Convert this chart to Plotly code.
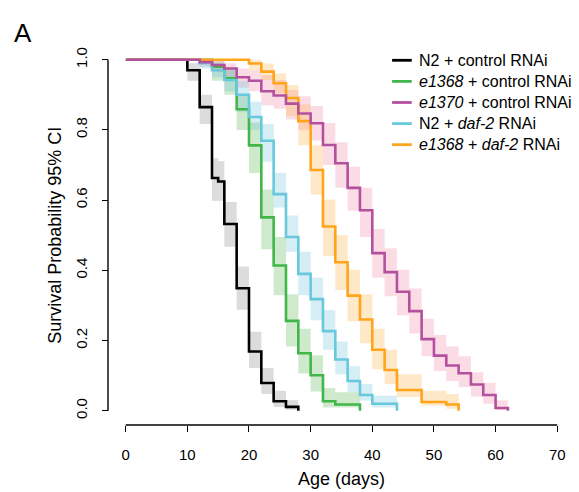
import plotly.graph_objects as go

# ---------------- data ----------------
# N2 + control RNAi
n2c_t = [0, 10, 12, 14, 15, 16, 18, 20, 22, 24, 26, 28]
n2c_s = [1.0, 0.970, 0.865, 0.663, 0.653, 0.532, 0.349, 0.169, 0.079, 0.027, 0.011, 0.0]
n2c_lo = [0.940, 0.817, 0.598, 0.598, 0.467, 0.288, 0.122, 0.048, 0.011, 0.003]
n2c_hi = [0.990, 0.900, 0.719, 0.711, 0.595, 0.411, 0.225, 0.122, 0.057, 0.030]

# e1368 + control RNAi
e68c_t = [0, 14, 16, 18, 20, 22, 24, 26, 28, 30, 32, 34, 38]
e68c_s = [1.0, 0.980, 0.947, 0.859, 0.756, 0.551, 0.414, 0.256, 0.164, 0.101, 0.027, 0.018, 0.0]
e68c_lo = [0.940, 0.900, 0.800, 0.677, 0.460, 0.329, 0.183, 0.106, 0.055, 0.009, 0.009]
e68c_hi = [0.995, 0.975, 0.900, 0.821, 0.630, 0.495, 0.332, 0.234, 0.158, 0.065, 0.053]

# e1370 + control RNAi
e70c_t = [0, 12, 14, 16, 18, 20, 22, 24, 26, 28, 30, 32, 34, 36, 38, 40, 42, 44, 46, 48,
          50, 52, 54, 56, 58, 60, 62]
e70c_s = [1.0, 0.993, 0.985, 0.975, 0.950, 0.940, 0.910, 0.898, 0.875, 0.847, 0.819, 0.757,
          0.705, 0.635, 0.571, 0.449, 0.395, 0.339, 0.284, 0.204, 0.157, 0.129, 0.107, 0.075,
          0.045, 0.008, 0.0]
e70c_lo = [0.980, 0.965, 0.950, 0.920, 0.910, 0.870, 0.860, 0.830, 0.800, 0.770, 0.700,
           0.635, 0.570, 0.495, 0.379, 0.326, 0.272, 0.220, 0.155, 0.113, 0.085, 0.067,
           0.040, 0.020, 0.002]
e70c_hi = [1.0, 0.998, 0.990, 0.975, 0.970, 0.956, 0.942, 0.914, 0.896, 0.868, 0.820,
           0.765, 0.695, 0.635, 0.518, 0.463, 0.402, 0.348, 0.262, 0.216, 0.183, 0.155,
           0.110, 0.080, 0.030]

# N2 + daf-2 RNAi
n2d_t = [0, 12, 14, 16, 18, 20, 22, 24, 26, 28, 30, 32, 34, 36, 38, 40, 44]
n2d_s = [1.0, 0.990, 0.970, 0.942, 0.900, 0.837, 0.769, 0.617, 0.495, 0.390, 0.318, 0.227,
         0.146, 0.085, 0.045, 0.020, 0.0]
n2d_lo = [0.975, 0.950, 0.910, 0.850, 0.800, 0.709, 0.579, 0.453, 0.329, 0.258, 0.174,
          0.104, 0.053, 0.029, 0.009]
n2d_hi = [1.0, 0.990, 0.970, 0.940, 0.880, 0.817, 0.677, 0.556, 0.453, 0.379, 0.286,
          0.197, 0.127, 0.076, 0.043]

# e1368 + daf-2 RNAi
e68d_t = [0, 20, 22, 24, 26, 28, 30, 32, 34, 36, 38, 40, 42, 44, 48, 52, 54]
e68d_s = [1.0, 0.989, 0.966, 0.933, 0.891, 0.825, 0.686, 0.525, 0.423, 0.328, 0.260, 0.174,
          0.116, 0.059, 0.025, 0.018, 0.0]
e68d_lo = [0.970, 0.942, 0.905, 0.840, 0.756, 0.616, 0.441, 0.344, 0.255, 0.192, 0.118,
           0.076, 0.039, 0.015, 0.006]
e68d_hi = [1.0, 0.989, 0.961, 0.928, 0.873, 0.756, 0.602, 0.500, 0.402, 0.332, 0.234,
           0.174, 0.104, 0.057, 0.048]

names = ["N2 + control RNAi", "<i>e1368</i> + control RNAi", "<i>e1370</i> + control RNAi",
         "N2 + <i>daf-2</i> RNAi", "<i>e1368</i> + <i>daf-2</i> RNAi"]

x_ticks = [0, 10, 20, 30, 40, 50, 60, 70]
y_ticks = [0.0, 0.2, 0.4, 0.6, 0.8, 1.0]
y_ticktext = ["0.0", "0.2", "0.4", "0.6", "0.8", "1.0"]

# ---------------- styling ----------------
line_colors = ["#000000", "#41B649", "#B4519F", "#68C9DC", "#FFA41B"]
fill_colors = ["rgba(140,140,140,0.30)", "rgba(70,170,60,0.26)", "rgba(240,120,155,0.26)",
               "rgba(100,190,215,0.27)", "rgba(255,165,40,0.26)"]

groups = [
    (n2c_t, n2c_s, n2c_lo, n2c_hi),
    (e68c_t, e68c_s, e68c_lo, e68c_hi),
    (e70c_t, e70c_s, e70c_lo, e70c_hi),
    (n2d_t, n2d_s, n2d_lo, n2d_hi),
    (e68d_t, e68d_s, e68d_lo, e68d_hi),
]


def boxes(t, lo, hi):
    xs, ys = [], []
    for i in range(len(lo)):
        x0, x1 = t[i + 1], t[i + 2]
        xs += [x0, x1, x1, x0, x0, None]
        ys += [lo[i], lo[i], hi[i], hi[i], lo[i], None]
    return xs, ys


fig = go.Figure()
for k, (t, s, lo, hi) in enumerate(groups):
    bx, by = boxes(t, lo, hi)
    fig.add_trace(go.Scatter(x=bx, y=by, mode="lines", fill="toself",
                             fillcolor=fill_colors[k], line=dict(width=0),
                             showlegend=False, hoverinfo="skip"))

draw_order = [0, 1, 3, 4, 2]
for k in draw_order:
    t, s, lo, hi = groups[k]
    fig.add_trace(go.Scatter(x=t, y=s, mode="lines", line_shape="hv",
                             line=dict(color=line_colors[k], width=2.6),
                             name=names[k], showlegend=False))

# ---------------- layout geometry (pixels) ----------------
W, H = 579, 492
ML, MR, MT, MB = 108, 0, 0, 67
pw, ph = W - ML - MR, H - MT - MB
x0_px, x70_px = 126, 565          # pixels of day 0 and day 70
y0_px, y1_px = 410.5, 52.7        # pixels of survival 0 and 1
ypad = 0.012
ppu = y0_px - y1_px
ybot_px = y0_px + ypad * ppu
ytop_px = y1_px - ypad * ppu


def px_x(p):
    return (p - ML) / pw


def px_y(p):
    return (H - MB - p) / ph


x_dom = [px_x(x0_px), px_x(x70_px)]
y_dom = [px_y(ybot_px), px_y(ytop_px)]

font = "Liberation Sans, Arial, Helvetica, sans-serif"

fig.update_layout(
    width=W, height=H,
    margin=dict(l=ML, r=MR, t=MT, b=MB),
    paper_bgcolor="white", plot_bgcolor="white",
    font=dict(family=font, color="black", size=15),
    xaxis=dict(domain=x_dom, range=[0, 70], anchor="free", position=0,
               tickvals=x_ticks, ticks="outside", ticklen=6, tickwidth=1.4,
               tickcolor="black", showline=False, showgrid=False, zeroline=False,
               ticklabelstandoff=10, tickfont=dict(size=15),
               title=dict(text="Age (days)", font=dict(size=18), standoff=10)),
    yaxis=dict(domain=y_dom, range=[-ypad, 1 + ypad], anchor="free", position=0,
               tickvals=y_ticks, ticktext=y_ticktext,
               ticks="outside", ticklen=6, tickwidth=1.4, tickcolor="black",
               tickangle=-90, showline=False, showgrid=False, zeroline=False,
               ticklabelstandoff=9, tickfont=dict(size=15),
               title=dict(text="Survival Probability 95% CI", font=dict(size=18), standoff=5)),
    showlegend=False,
)

# axis lines in R style (span only the tick range)
fig.add_shape(type="line", xref="paper", yref="paper", x0=0, x1=0,
              y0=px_y(y0_px), y1=px_y(y1_px), line=dict(color="black", width=1.4))
fig.add_shape(type="line", xref="paper", yref="paper", x0=x_dom[0], x1=x_dom[1], y0=0, y1=0,
              line=dict(color="black", width=1.4))

# legend drawn as key lines + text
leg_y = [53.3, 74.8, 96.3, 117.8, 139.3]
for k in range(5):
    fig.add_shape(type="line", xref="paper", yref="paper", x0=px_x(397), x1=px_x(417),
                  y0=px_y(leg_y[k]), y1=px_y(leg_y[k]),
                  line=dict(color=line_colors[k], width=2.8))
    fig.add_annotation(text=names[k], xref="paper", yref="paper", x=px_x(422),
                       y=px_y(leg_y[k]), showarrow=False, font=dict(size=16),
                       xanchor="left", yanchor="middle")

fig.add_annotation(text="A", xref="paper", yref="paper", x=px_x(22),
                   y=px_y(25), showarrow=False, font=dict(size=26),
                   xanchor="center", yanchor="middle")

fig.write_html("out.html", config={"displayModeBar": False},
               post_script="document.body.style.margin='0px';document.body.style.padding='0px';")
